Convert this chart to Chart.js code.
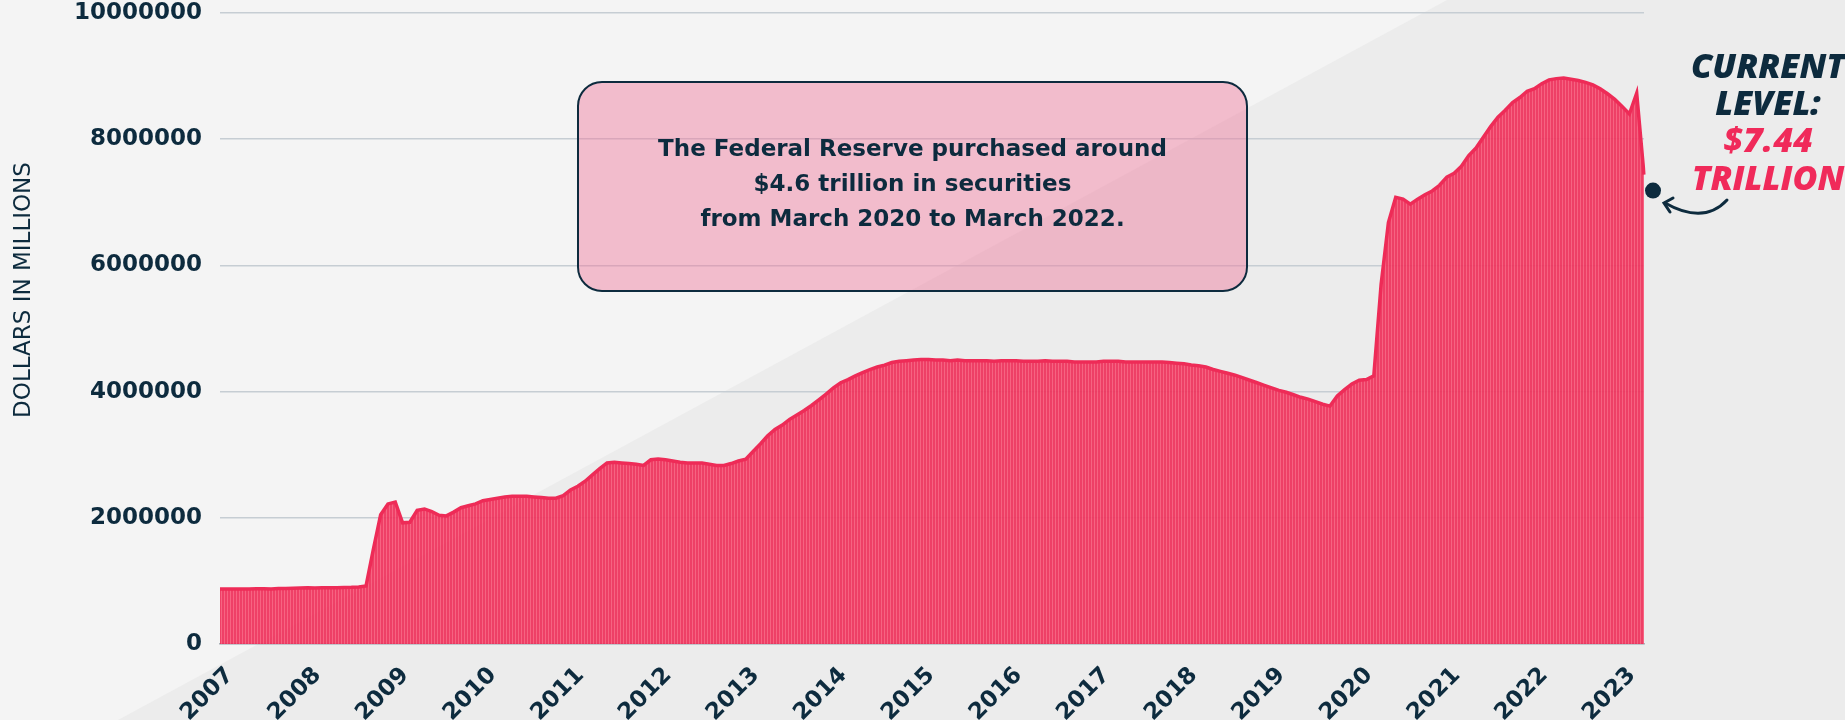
<!DOCTYPE html>
<html>
<head>
<meta charset="utf-8">
<script src="https://cdn.jsdelivr.net/npm/chart.js@4.4.1/dist/chart.umd.min.js"></script>
<style>
  html, body { margin: 0; padding: 0; background: #f4f4f4; }
</style>
</head>
<body>
<canvas id="fedChart" width="1845" height="720"></canvas>
<script>
// Fed balance sheet, monthly, dollars in millions (Jan 2007 - Apr 2023)
const years = [2007, 2008, 2009, 2010, 2011, 2012, 2013, 2014, 2015,
               2016, 2017, 2018, 2019, 2020, 2021, 2022, 2023];

const balance = [
  870000, 872000, 871000, 873000, 872000, 874000, 876000, 873000, 878000, 881000, 884000, 888000,        // 2007
  890000, 886000, 890000, 893000, 891000, 896000, 898000, 904000, 920000, 1500000, 2050000, 2220000,     // 2008
  2250000, 1920000, 1930000, 2120000, 2140000, 2100000, 2040000, 2030000, 2090000, 2160000, 2190000, 2220000, // 2009
  2270000, 2290000, 2310000, 2330000, 2340000, 2340000, 2340000, 2330000, 2320000, 2310000, 2310000, 2350000, // 2010
  2440000, 2500000, 2580000, 2680000, 2780000, 2870000, 2880000, 2870000, 2860000, 2850000, 2830000, 2920000, // 2011
  2930000, 2920000, 2900000, 2880000, 2870000, 2870000, 2870000, 2850000, 2830000, 2830000, 2860000, 2900000, // 2012
  2930000, 3050000, 3170000, 3300000, 3400000, 3470000, 3560000, 3630000, 3700000, 3780000, 3870000, 3960000, // 2013
  4060000, 4140000, 4190000, 4250000, 4300000, 4350000, 4390000, 4420000, 4460000, 4480000, 4490000, 4500000, // 2014
  4510000, 4510000, 4500000, 4500000, 4490000, 4500000, 4490000, 4490000, 4490000, 4490000, 4480000, 4490000, // 2015
  4490000, 4490000, 4480000, 4480000, 4480000, 4490000, 4480000, 4480000, 4480000, 4470000, 4470000, 4470000, // 2016
  4470000, 4480000, 4480000, 4480000, 4470000, 4470000, 4470000, 4470000, 4470000, 4470000, 4460000, 4450000, // 2017
  4440000, 4420000, 4410000, 4390000, 4350000, 4320000, 4290000, 4260000, 4220000, 4180000, 4140000, 4100000, // 2018
  4060000, 4020000, 3990000, 3950000, 3910000, 3880000, 3840000, 3800000, 3770000, 3930000, 4030000, 4120000, // 2019
  4180000, 4190000, 4250000, 5700000, 6680000, 7080000, 7050000, 6970000, 7050000, 7120000, 7180000, 7270000, // 2020
  7400000, 7460000, 7570000, 7740000, 7860000, 8030000, 8200000, 8350000, 8460000, 8580000, 8660000, 8760000, // 2021
  8800000, 8880000, 8940000, 8960000, 8970000, 8950000, 8930000, 8900000, 8860000, 8800000, 8720000, 8630000, // 2022
  8520000, 8400000, 8730000, 7440000                                                                         // 2023
];

const yTicks = [0, 2000000, 4000000, 6000000, 8000000, 10000000];

const noteLines = [
  'The Federal Reserve purchased around',
  '$4.6 trillion in securities',
  'from March 2020 to March 2022.'
];
const currentLevel = 7440000;

// month labels like 2007-01
const months = [];
years.forEach(y => {
  for (let m = 1; m <= 12; m++) {
    if (months.length < balance.length) months.push(y + '-' + String(m).padStart(2, '0'));
  }
});

const navy = '#0d2b3e';
const pink = '#f02a5a';

// striped fill for the area
function stripes() {
  const c = document.createElement('canvas');
  c.width = 3; c.height = 4;
  const g = c.getContext('2d');
  g.fillStyle = 'rgba(238,44,88,0.9)';
  g.fillRect(0, 0, 2, 4);
  g.fillStyle = 'rgba(247,84,118,0.9)';
  g.fillRect(2, 0, 1, 4);
  return g.createPattern(c, 'repeat');
}

const backdrop = {
  id: 'backdrop',
  beforeDraw(chart) {
    const ctx = chart.ctx;
    ctx.save();
    ctx.fillStyle = '#f4f4f4';
    ctx.fillRect(0, 0, chart.width, chart.height);
    ctx.fillStyle = '#ececec';
    ctx.beginPath();
    ctx.moveTo(118, 720);
    ctx.lineTo(1447, 0);
    ctx.lineTo(chart.width, 0);
    ctx.lineTo(chart.width, chart.height);
    ctx.closePath();
    ctx.fill();
    ctx.restore();
  }
};

const notes = {
  id: 'notes',
  afterDraw(chart) {
    const ctx = chart.ctx;
    const area = chart.chartArea;
    ctx.save();

    // y axis title
    ctx.translate(24, 290);
    ctx.rotate(-Math.PI / 2);
    ctx.fillStyle = navy;
    ctx.font = '23px "DejaVu Sans"';
    ctx.textAlign = 'center';
    ctx.textBaseline = 'middle';
    ctx.fillText('DOLLARS IN MILLIONS', 0, 0);
    ctx.setTransform(1, 0, 0, 1, 0, 0);

    // callout box
    const bx = 578, by = 82, bw = 669, bh = 209;
    ctx.beginPath();
    ctx.roundRect(bx, by, bw, bh, 24);
    ctx.fillStyle = 'rgba(240,120,155,0.45)';
    ctx.fill();
    ctx.lineWidth = 2;
    ctx.strokeStyle = navy;
    ctx.stroke();
    ctx.fillStyle = navy;
    ctx.font = 'bold 23px "DejaVu Sans"';
    noteLines.forEach((t, i) => ctx.fillText(t, bx + bw / 2, 150 + i * 35));

    // current level label
    ctx.font = 'italic 800 34px "Open Sans"';
    ctx.fillStyle = navy;
    ctx.fillText('CURRENT', 1768, 68);
    ctx.fillText('LEVEL:', 1768, 105);
    ctx.fillStyle = pink;
    ctx.fillText('$7.44', 1768, 142);
    ctx.fillText('TRILLION', 1768, 180);

    // dot and arrow
    const dx = area.right + 9;
    const dy = chart.scales.y.getPixelForValue(currentLevel) + 16;
    ctx.fillStyle = navy;
    ctx.beginPath();
    ctx.arc(dx, dy, 8, 0, Math.PI * 2);
    ctx.fill();
    ctx.strokeStyle = navy;
    ctx.lineWidth = 3;
    ctx.lineCap = 'round';
    ctx.beginPath();
    ctx.moveTo(1727, 200);
    ctx.quadraticCurveTo(1704, 225, 1665, 203);
    ctx.stroke();
    ctx.beginPath();
    ctx.moveTo(1673, 198);
    ctx.lineTo(1664, 203);
    ctx.lineTo(1670, 212);
    ctx.stroke();
    ctx.restore();
  }
};

const ctx = document.getElementById('fedChart').getContext('2d');
const fedChart = new Chart(ctx, {
  type: 'line',
  data: {
    labels: months,
    datasets: [
      {
        label: 'Total assets',
        data: balance,
        fill: 'origin',
        backgroundColor: stripes(),
        borderColor: '#ee2b57',
        borderWidth: 3.5,
        pointRadius: 0,
        tension: 0,
      },
    ],
  },
  options: {
    responsive: false,
    animation: false,
    devicePixelRatio: 1,
    layout: {
      padding: { top: 13, right: 201, left: 0, bottom: 0 },
    },
    plugins: {
      legend: { display: false },
      tooltip: { enabled: false },
    },
    scales: {
      x: {
        grid: { display: false, drawTicks: false },
        border: { display: true, color: '#a8b0b7', width: 1.5 },
        ticks: {
          autoSkip: false,
          maxRotation: 45,
          minRotation: 45,
          padding: 18,
          labelOffset: 10,
          color: navy,
          font: { family: 'DejaVu Sans', size: 23, weight: 'bold' },
          callback: function (value) {
            const lab = this.getLabelForValue(value);
            return lab.endsWith('-01') ? lab.slice(0, 4) : '';
          },
        },
        afterFit: (s) => { s.height = 76; s.paddingLeft = 0; s.paddingRight = 0; },
      },
      y: {
        min: 0,
        max: 10000000,
        afterBuildTicks: (s) => { s.ticks = yTicks.map(v => ({ value: v })); },
        grid: { color: '#c6cdd3', lineWidth: 1.5, drawTicks: false },
        border: { display: false },
        ticks: {
          padding: 18,
          color: navy,
          font: { family: 'DejaVu Sans', size: 23, weight: 'bold' },
          callback: (v) => String(v),
        },
        afterFit: (s) => { s.width = 220; s.paddingTop = 0; s.paddingBottom = 0; },
      },
    },
  },
  plugins: [backdrop, notes],
});
</script>
</body>
</html>
